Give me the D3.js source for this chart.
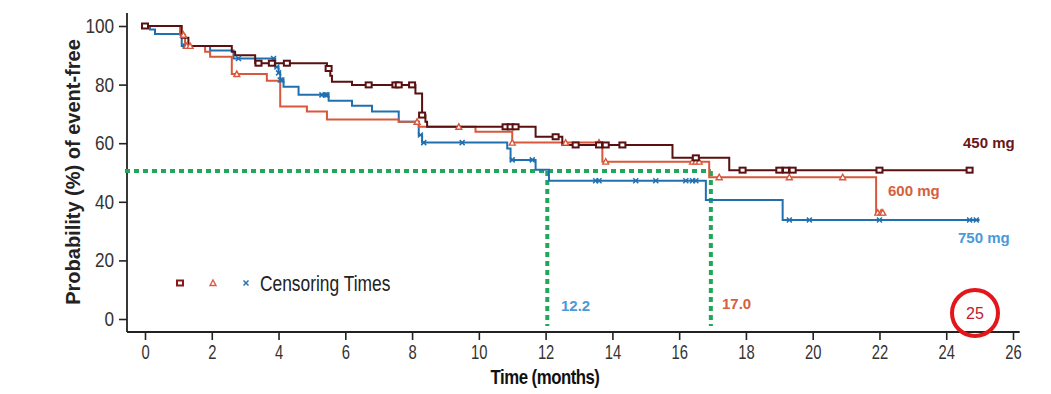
<!DOCTYPE html>
<html>
<head>
<meta charset="utf-8">
<script src="https://cdn.jsdelivr.net/npm/d3@7"></script>
<style>
  body { margin: 0; background: #fff; }
  svg text { font-family: "Liberation Sans", Arial, sans-serif; }
</style>
</head>
<body>
<svg width="1051" height="394"></svg>
<script>
// step points: [time, survival after the step]
const steps450 = [[0,100],[1.1,96],[1.3,93.2],[2.6,91.2],[2.7,90],[3.3,87.3],[5.45,85.5],[5.55,83],[5.6,81],[6.2,79.9],
  [8.1,77],[8.3,69.6],[8.4,67.3],[8.45,65.6],[11.7,62.2],[12.5,59.4],[15.8,55],[17.5,50.8]];
const end450 = 24.7;
const cens450 = [0,3.4,3.8,4.25,5.5,6.7,7.5,7.6,8.0,8.3,10.8,10.95,11.1,12.3,12.9,13.6,13.8,14.3,16.5,17.9,19.0,19.2,19.4,22.0,24.7];

const steps600 = [[0,100],[1.05,97],[1.2,93.2],[1.8,91.2],[1.95,89.5],[2.6,83.6],[3.65,81.3],[4.05,72.5],[4.85,70.8],
  [5.45,68.1],[7.6,67.3],[8.2,65.6],[9.9,63.9],[11.0,60.2],[13.7,53.7],[16.9,48.4],[21.9,36.3]];
const end600 = 22.1;
const cens600 = [1.15,1.25,1.35,2.75,8.15,9.4,11.0,12.6,13.6,13.8,16.4,16.5,16.6,17.2,19.3,20.9,21.95,22.05,22.1];

const steps750 = [[0,100],[0.15,98.8],[0.3,97.3],[1.1,93.2],[1.95,91.6],[2.65,88.9],[3.9,86],[4.0,84],[4.05,81.6],[4.15,79.3],
  [4.6,76.5],[5.5,74.5],[6.2,72.8],[6.8,70.8],[7.6,67.3],[8.2,62.8],[8.3,60.2],[10.85,58.2],[10.95,54.3],[11.7,50.9],
  [12.1,47.2],[16.8,40.6],[19.1,33.8]];
const end750 = 25.0;
const cens750 = [1.2,1.3,2.8,3.85,3.95,4.0,4.05,4.1,5.3,5.4,5.45,8.25,8.35,9.5,11.0,11.6,13.5,13.6,14.7,15.3,16.2,16.4,16.5,19.3,19.9,22.0,24.7,24.9];

const xTicks = d3.range(0, 27, 2);
const yTicks = [0, 20, 40, 60, 80, 100];
const medianLevel = 50.5;
const medians = [12.05, 16.95];
const medianLabels = ["12.2", "17.0"];

const svg = d3.select("svg");
const x = d3.scaleLinear().domain([0, 26]).range([145, 1013]);
const y = d3.scaleLinear().domain([0, 100]).range([319, 26]);

const colors = { d450: "#5a1010", d600: "#d9583b", d750: "#2070b0" };

// axes
const xAxis = svg.append("g")
  .attr("transform", "translate(0,332)")
  .call(d3.axisBottom(x).tickValues(xTicks).tickSize(8).tickSizeOuter(0).tickPadding(5));
xAxis.select(".domain").remove();
xAxis.selectAll("line").attr("stroke", "#222").attr("stroke-width", 1.6);
xAxis.selectAll("text").attr("font-size", 20).attr("fill", "#333").attr("transform", "scale(0.74,1)");
svg.append("line").attr("x1", 127).attr("x2", x(26.2)).attr("y1", 332).attr("y2", 332)
  .attr("stroke", "#222").attr("stroke-width", 1.8);

const yAxis = svg.append("g")
  .attr("transform", "translate(127,0)")
  .call(d3.axisLeft(y).tickValues(yTicks).tickSize(8).tickSizeOuter(0).tickPadding(7));
yAxis.select(".domain").remove();
yAxis.selectAll("line").attr("stroke", "#222").attr("stroke-width", 1.6);
yAxis.selectAll("text").attr("font-size", 20).attr("fill", "#333").attr("transform", "scale(0.86,1)");
svg.append("line").attr("x1", 127).attr("x2", 127).attr("y1", 13).attr("y2", 332)
  .attr("stroke", "#222").attr("stroke-width", 1.8);

svg.append("text").attr("transform", "translate(545,384) scale(0.84,1)").attr("text-anchor", "middle")
  .attr("font-size", 20).attr("font-weight", "bold").attr("fill", "#111")
  .attr("letter-spacing", -0.6).text("Time (months)");
svg.append("text").attr("transform", "translate(80,172) rotate(-90)").attr("text-anchor", "middle")
  .attr("font-size", 20).attr("font-weight", "bold").attr("fill", "#222")
  .text("Probability (%) of event-free");

// median guide
const green = "#1fa85a";
svg.append("path")
  .attr("d", `M125,${y(medianLevel)}H${x(medians[1])}`)
  .attr("fill", "none").attr("stroke", green).attr("stroke-width", 4).attr("stroke-dasharray", "5,4");
medians.forEach(m => {
  svg.append("path")
    .attr("d", `M${x(m)},${y(medianLevel)}V326`)
    .attr("fill", "none").attr("stroke", green).attr("stroke-width", 4).attr("stroke-dasharray", "5,4");
});

// curves
function stepValue(steps, t) {
  let v = steps[0][1];
  steps.forEach(s => { if (s[0] <= t) v = s[1]; });
  return v;
}
const line = d3.line().x(d => x(d[0])).y(d => y(d[1])).curve(d3.curveStepAfter);
function drawCurve(steps, end, color) {
  const pts = steps.concat([[end, steps[steps.length - 1][1]]]);
  svg.append("path").attr("d", line(pts)).attr("fill", "none")
    .attr("stroke", color).attr("stroke-width", 2);
}
drawCurve(steps750, end750, colors.d750);
drawCurve(steps600, end600, colors.d600);
drawCurve(steps450, end450, colors.d450);

function square(g, cx, cy, c) {
  g.append("rect").attr("x", cx - 3).attr("y", cy - 2.5).attr("width", 6).attr("height", 5)
    .attr("fill", "#fff").attr("stroke", c).attr("stroke-width", 2);
}
function triangle(g, cx, cy, c) {
  g.append("path").attr("d", `M${cx - 3},${cy + 2.5}L${cx},${cy - 3}L${cx + 3},${cy + 2.5}Z`)
    .attr("fill", "#fff").attr("stroke", c).attr("stroke-width", 1.4);
}
function cross(g, cx, cy, c) {
  g.append("path").attr("d", `M${cx - 2.5},${cy - 2.5}L${cx + 2.5},${cy + 2.5}M${cx - 2.5},${cy + 2.5}L${cx + 2.5},${cy - 2.5}`)
    .attr("stroke", c).attr("stroke-width", 1.5);
}
const marks = svg.append("g");
cens750.forEach(t => cross(marks, x(t), y(stepValue(steps750, t)), colors.d750));
cens600.forEach(t => triangle(marks, x(t), y(stepValue(steps600, t)), colors.d600));
cens450.forEach(t => square(marks, x(t), y(stepValue(steps450, t)), colors.d450));

// series labels
const lab = (tx, ty, col, s) => svg.append("text").attr("x", tx).attr("y", ty)
  .attr("font-size", 15).attr("font-weight", "bold").attr("fill", col).text(s);
lab(963, 148, "#6b1515", "450 mg");
lab(888, 196, "#d6603d", "600 mg");
lab(958, 243, "#4a9ad8", "750 mg");
lab(561, 311, "#4a9ad8", medianLabels[0]);
lab(722, 309, "#d6603d", medianLabels[1]);

// legend
square(svg, 180, 283, "#8a1a1a");
triangle(svg, 213, 283, "#e05a4a");
cross(svg, 246, 283, "#2a70b0");
svg.append("text").attr("transform", "translate(260,291) scale(0.79,1)").attr("font-size", 22)
  .attr("fill", "#222").text("Censoring Times");

// annotation circle
svg.append("circle").attr("cx", 975).attr("cy", 313).attr("r", 23)
  .attr("fill", "none").attr("stroke", "#e3161b").attr("stroke-width", 4);
svg.append("text").attr("x", 975).attr("y", 319).attr("text-anchor", "middle")
  .attr("font-size", 16).attr("fill", "#c0202a").text("25");
</script>
</body>
</html>
